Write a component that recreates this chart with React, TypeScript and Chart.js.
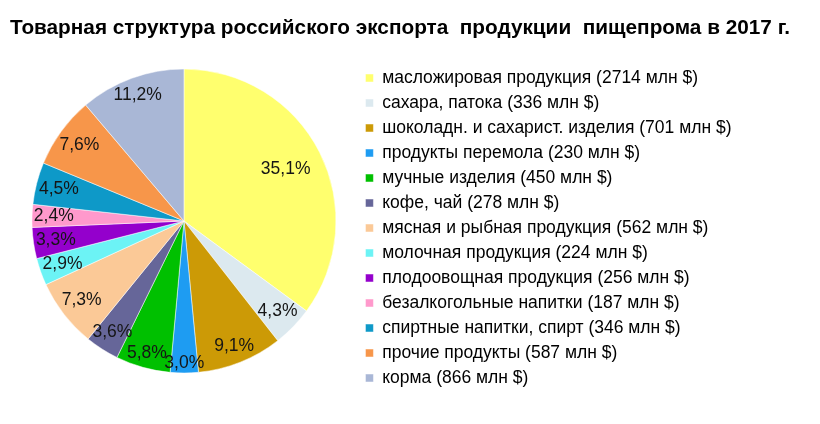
import { useEffect, useRef } from 'react';
import { Chart, registerables } from 'chart.js';

Chart.register(...registerables);

const TITLE = 'Товарная структура российского экспорта  продукции  пищепрома в 2017 г.';

const categories = [
  'масложировая продукция',
  'сахара, патока',
  'шоколадн. и сахарист. изделия',
  'продукты перемола',
  'мучные изделия',
  'кофе, чай',
  'мясная и рыбная продукция',
  'молочная продукция',
  'плодоовощная продукция',
  'безалкогольные напитки',
  'спиртные напитки, спирт',
  'прочие продукты',
  'корма',
];

const values = [2714, 336, 701, 230, 450, 278, 562, 224, 256, 187, 346, 587, 866];

const colors = [
  '#FFFF6E',
  '#DCE9EF',
  '#CC9A06',
  '#1E9CF2',
  '#00C000',
  '#666699',
  '#FBC997',
  '#6CF3F5',
  '#9400CC',
  '#FF99CC',
  '#0E99C8',
  '#F7964A',
  '#A9B7D6',
];

const FONT = '"Liberation Sans", Arial, sans-serif';

const percentLabels = {
  id: 'percentLabels',
  afterDatasetsDraw(chart: any) {
    const ctx = chart.ctx;
    const meta = chart.getDatasetMeta(0);
    const data = chart.data.datasets[0].data as number[];
    const total = data.reduce((a, b) => a + b, 0);
    ctx.save();
    ctx.font = `17.5px ${FONT}`;
    ctx.fillStyle = '#151515';
    ctx.textAlign = 'center';
    ctx.textBaseline = 'middle';
    meta.data.forEach((arc: any, i: number) => {
      const { x, y, startAngle, endAngle, outerRadius } = arc.getProps(
        ['x', 'y', 'startAngle', 'endAngle', 'outerRadius'],
        true
      );
      const pct = (data[i] / total) * 100;
      const text = pct.toFixed(1).replace('.', ',') + '%';
      const mid = (startAngle + endAngle) / 2;
      const c = Math.cos(mid);
      const s = Math.sin(mid);
      let dist: number;
      if (pct > 20) {
        dist = outerRadius * 0.75;
      } else {
        const hw = ctx.measureText(text).width / 2;
        const hh = 8.5;
        dist = outerRadius - (hw * Math.abs(c) + hh * Math.abs(s)) - 1.5;
      }
      ctx.fillText(text, x + c * dist, y + s * dist);
    });
    ctx.restore();
  },
};

export default function App() {
  const ref = useRef<HTMLCanvasElement | null>(null);

  useEffect(() => {
    if (!ref.current) return;
    const chart = new Chart(ref.current, {
      type: 'pie',
      data: {
        labels: categories.map((c, i) => `${c} (${values[i]} млн $)`),
        datasets: [
          {
            data: values,
            backgroundColor: colors,
            borderColor: '#ffffff',
            borderWidth: 0.5,
            radius: 152,
          } as any,
        ],
      },
      options: {
        responsive: false,
        animation: false,
        layout: { padding: { left: 10, right: 30, top: 0, bottom: 28 } },
        plugins: {
          title: {
            display: true,
            text: TITLE,
            align: 'start',
            color: '#000',
            font: { family: FONT, size: 21, weight: 'bold' },
            padding: { top: 15.5, bottom: 5.3 },
          },
          subtitle: {
            display: true,
            position: 'right',
            text: '',
            font: { family: FONT, size: 10 },
            padding: { top: 18, bottom: 18.5 },
          },
          legend: {
            position: 'right',
            fullSize: false,
            align: 'start',
            maxWidth: 460,
            title: {
              display: true,
              text: '',
              font: { family: FONT, size: 10 },
              padding: { top: 0, bottom: 3.75 },
            },
            labels: {
              boxWidth: 8,
              boxHeight: 8,
              padding: 7.5,
              color: '#000',
              font: { family: FONT, size: 17.5 },
            },
          },
          tooltip: { enabled: false },
        },
      } as any,
      plugins: [percentLabels],
    });
    return () => chart.destroy();
  }, []);

  return (
    <div style={{ position: 'absolute', left: 0, top: 0, width: 820, height: 424, background: '#fff' }}>
      <canvas ref={ref} width={820} height={424} style={{ width: 820, height: 424 }} />
    </div>
  );
}
